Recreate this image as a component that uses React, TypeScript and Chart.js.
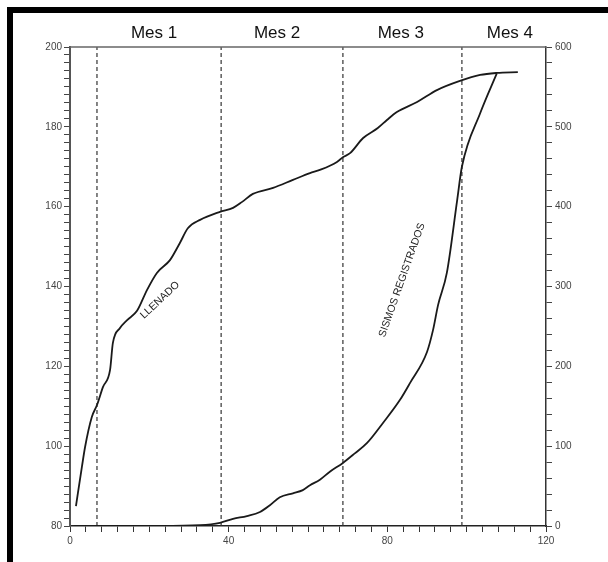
import React, { useEffect, useRef } from "react";
import { Chart, registerables } from "chart.js";

Chart.register(...registerables);

// ---- data (days since start of filling) ----
const llenadoDays = [1.5, 3.0, 3.8, 5.5, 6.8, 8.3, 10.1, 10.8, 12.6, 14.4, 16.9, 19.4, 21.9, 25.2, 27.7, 29.7, 32.8, 37.8, 41.1, 43.4, 46.1, 51.2, 56.2, 60.5, 63.0, 67.3, 68.8, 70.6, 73.9, 77.6, 79.9, 82.4, 87.5, 92.5, 98.3, 103.4, 107.6, 112.9];
const llenadoLevel = [85.0, 94.8, 99.8, 107.3, 110.3, 114.8, 119.1, 125.8, 129.6, 131.6, 133.9, 139.1, 143.4, 146.6, 150.9, 154.6, 156.7, 158.7, 159.7, 161.2, 163.2, 164.7, 166.7, 168.4, 169.2, 171.2, 172.4, 173.4, 177.2, 179.7, 181.7, 183.7, 186.2, 189.2, 191.5, 193.0, 193.5, 193.7];

const sismosDays = [1.0, 14.4, 22.7, 32.8, 37.8, 41.1, 44.6, 47.9, 50.4, 52.9, 56.2, 58.7, 60.5, 63.0, 65.5, 68.8, 71.8, 74.9, 78.9, 83.2, 85.7, 90.0, 91.5, 92.8, 95.0, 97.6, 98.8, 103.4, 107.6];
const sismosCount = [0, 0, 0, 1, 4, 9, 12.5, 17.5, 26, 36, 41, 45, 51, 58, 68, 79, 91, 104, 129, 158, 179, 218, 245, 277, 317, 408, 450, 517, 567];

const monthDividers = [6.8, 38.1, 68.8, 98.8];
const monthLabels = ["Mes 1", "Mes 2", "Mes 3", "Mes 4"];
const monthLabelDays = [21.2, 52.2, 83.4, 110.9];

const xLabelValues = [0, 40, 80, 120];
const leftLabelValues = [80, 100, 120, 140, 160, 180, 200];
const rightLabelValues = [0, 100, 200, 300, 400, 500, 600];

const curveLabels = ["LLENADO", "SISMOS REGISTRADOS"];
const curveLabelDays = [22.7, 83.7];
const curveLabelValues = [136.6, 308];
const curveLabelAxes = ["y", "y2"];
const curveLabelAngles = [-43, -70.5];

const range = (a: number, b: number, s: number) => {
  const r: number[] = [];
  for (let v = a; v <= b + 1e-9; v += s) r.push(Math.round(v * 1000) / 1000);
  return r;
};

const FONT = '"Liberation Sans", Arial, sans-serif';

const decorPlugin = {
  id: "decor",
  beforeDraw(chart: any) {
    const { ctx, width, height } = chart;
    ctx.save();
    ctx.fillStyle = "#ffffff";
    ctx.fillRect(0, 0, width, height);
    ctx.fillStyle = "#000000";
    ctx.fillRect(7, 7, 6, height - 7);
    ctx.fillRect(7, 7, width - 7, 6);
    ctx.restore();
  },
  afterDatasetsDraw(chart: any) {
    const { ctx, chartArea } = chart;
    const xs = chart.scales.x;
    ctx.save();
    // top frame line
    ctx.strokeStyle = "#666";
    ctx.lineWidth = 1.5;
    ctx.beginPath();
    ctx.moveTo(chartArea.left, chartArea.top);
    ctx.lineTo(chartArea.right, chartArea.top);
    ctx.stroke();
    // month labels
    ctx.fillStyle = "#111";
    ctx.font = `17px ${FONT}`;
    ctx.textAlign = "center";
    ctx.textBaseline = "middle";
    monthLabels.forEach((t, i) => {
      ctx.fillText(t, xs.getPixelForValue(monthLabelDays[i]), 33);
    });
    // curve labels
    ctx.font = `10.5px ${FONT}`;
    ctx.fillStyle = "#222";
    curveLabels.forEach((t, i) => {
      const px = xs.getPixelForValue(curveLabelDays[i]);
      const py = chart.scales[curveLabelAxes[i]].getPixelForValue(curveLabelValues[i]);
      ctx.save();
      ctx.translate(px, py);
      ctx.rotate((curveLabelAngles[i] * Math.PI) / 180);
      ctx.fillText(t, 0, 0);
      ctx.restore();
    });
    ctx.restore();
  },
};

export default function App() {
  const ref = useRef<HTMLCanvasElement | null>(null);

  useEffect(() => {
    if (!ref.current) return;
    const dividerSets = monthDividers.map((d) => ({
      data: [
        { x: d, y: 80 },
        { x: d, y: 200 },
      ],
      yAxisID: "y",
      borderColor: "#333",
      borderWidth: 1.2,
      borderDash: [4, 3],
      pointRadius: 0,
      tension: 0,
    }));
    const tickFont = { family: FONT, size: 10 };
    const chart = new Chart(ref.current, {
      type: "line",
      data: {
        datasets: [
          {
            label: "Llenado",
            data: llenadoDays.map((x, i) => ({ x, y: llenadoLevel[i] })),
            yAxisID: "y",
            borderColor: "#1a1a1a",
            borderWidth: 1.8,
            pointRadius: 0,
            cubicInterpolationMode: "monotone",
          },
          {
            label: "Sismos registrados",
            data: sismosDays.map((x, i) => ({ x, y: sismosCount[i] })),
            yAxisID: "y2",
            borderColor: "#1a1a1a",
            borderWidth: 1.8,
            pointRadius: 0,
            cubicInterpolationMode: "monotone",
          },
          ...dividerSets,
        ] as any,
      },
      options: {
        animation: false,
        responsive: false,
        layout: { padding: { top: 47, left: 0, right: 0, bottom: 0 } },
        plugins: { legend: { display: false }, tooltip: { enabled: false } },
        scales: {
          x: {
            type: "linear",
            min: 0,
            max: 120,
            afterBuildTicks: (s: any) => {
              s.ticks = range(0, 120, 4).map((value) => ({ value }));
            },
            afterFit: (s: any) => {
              s.height = 36;
            },
            ticks: {
              autoSkip: false,
              maxRotation: 0,
              padding: 3,
              color: "#444",
              font: tickFont,
              callback: (v: any) => (xLabelValues.includes(Number(v)) ? String(v) : ""),
            },
            grid: { drawOnChartArea: false, drawTicks: true, tickLength: 6, color: "#333", lineWidth: 1 },
            border: { display: true, color: "#222", width: 1.5 },
          },
          y: {
            type: "linear",
            position: "left",
            min: 80,
            max: 200,
            afterBuildTicks: (s: any) => {
              s.ticks = range(80, 200, 2).map((value) => ({ value }));
            },
            afterFit: (s: any) => {
              s.width = 70;
            },
            ticks: {
              autoSkip: false,
              padding: 2,
              color: "#444",
              font: tickFont,
              callback: (v: any) => (leftLabelValues.includes(Number(v)) ? String(v) : ""),
            },
            grid: { drawOnChartArea: false, drawTicks: true, tickLength: 6, color: "#444", lineWidth: 1 },
            border: { display: true, color: "#555", width: 2 },
          },
          y2: {
            type: "linear",
            position: "right",
            min: 0,
            max: 600,
            afterBuildTicks: (s: any) => {
              s.ticks = range(0, 600, 20).map((value) => ({ value }));
            },
            afterFit: (s: any) => {
              s.width = 62;
            },
            ticks: {
              autoSkip: false,
              padding: 3,
              color: "#444",
              font: tickFont,
              callback: (v: any) => (rightLabelValues.includes(Number(v)) ? String(v) : ""),
            },
            grid: { drawOnChartArea: false, drawTicks: true, tickLength: 6, color: "#444", lineWidth: 1 },
            border: { display: true, color: "#333", width: 1.5 },
          },
        },
      } as any,
      plugins: [decorPlugin],
    });
    return () => chart.destroy();
  }, []);

  return (
    <div style={{ position: "absolute", left: 0, top: 0, width: 608, height: 562 }}>
      <canvas ref={ref} width={608} height={562} style={{ display: "block" }} />
    </div>
  );
}
